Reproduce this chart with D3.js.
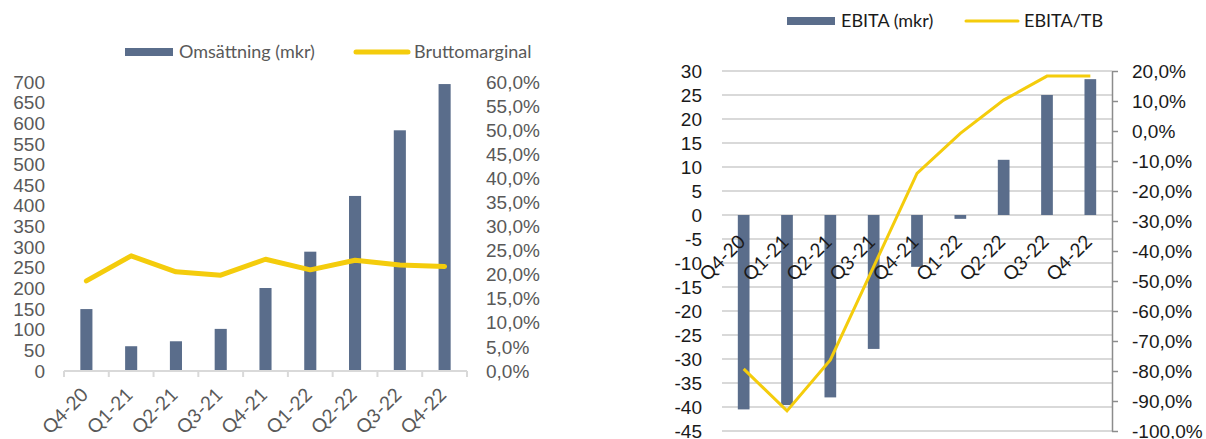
<!DOCTYPE html>
<html>
<head>
<meta charset="utf-8">
<script src="https://cdn.jsdelivr.net/npm/d3@7"></script>
<style>
  body { margin: 0; background: #fff; }
  svg { display: block; font-family: Lato, "Open Sans", sans-serif; }
  .axis text { font-size: 19px; }
</style>
</head>
<body>
<div id="chart"></div>
<script>
const quarters = ['Q4-20', 'Q1-21', 'Q2-21', 'Q3-21', 'Q4-21', 'Q1-22', 'Q2-22', 'Q3-22', 'Q4-22'];

// left chart
const omsattning = [150, 60, 72, 102, 201, 289, 424, 583, 695];
const bruttomarginal = [0.187, 0.239, 0.206, 0.199, 0.232, 0.210, 0.230, 0.220, 0.217];
const omsTicks = d3.range(0, 701, 50);
const bmTicks = d3.range(0, 0.601, 0.05);

// right chart
const ebita = [-40.5, -39.6, -38, -27.9, -10.8, -0.8, 11.5, 25, 28.3];
const ebitaTb = [-0.793, -0.933, -0.763, -0.452, -0.141, -0.008, 0.103, 0.183, 0.183];
const ebitaTicks = d3.range(-45, 31, 5);
const ebitaTbTicks = d3.range(-1.0, 0.201, 0.1);

const barColor = '#5a6d8b';
const lineColor = '#f4cc0c';

const sv = d3.formatLocale({ decimal: ',', thousands: ' ', grouping: [3], currency: ['', ' kr'], minus: '-', percent: '%' });
const pct = sv.format('.1%');
const num = sv.format('d');

const svg = d3.select('#chart')
  .append('svg')
  .attr('width', 1206)
  .attr('height', 439);

function bandScale(x0, x1) {
  return d3.scaleBand().domain(quarters).range([x0, x1]).paddingInner(0.73).paddingOuter(0.365);
}

function boundaryTicks(g, x, y0, len, color) {
  const edges = quarters.map(q => x(q) - x.step() * x.paddingInner() / 2);
  edges.push(x.range()[1]);
  g.selectAll('line.bt')
    .data(edges)
    .enter()
    .append('line')
    .attr('class', 'bt')
    .attr('x1', d => d).attr('x2', d => d)
    .attr('y1', y0).attr('y2', y0 + len)
    .attr('stroke', color)
    .attr('stroke-width', 2);
}

function xLabels(g, x, y0, color) {
  g.selectAll('text.xl')
    .data(quarters)
    .enter()
    .append('text')
    .attr('class', 'xl')
    .attr('text-anchor', 'end')
    .attr('font-size', 19)
    .attr('fill', color)
    .attr('transform', d => `translate(${x(d) + x.bandwidth() / 2 + 3},${y0 + 25}) rotate(-45)`)
    .text(d => d);
}

function legend(g, items, color) {
  items.forEach(it => {
    if (it.type === 'bar') {
      g.append('rect')
        .attr('x', it.x).attr('y', it.y - 4)
        .attr('width', it.w).attr('height', 8)
        .attr('fill', barColor);
    } else {
      g.append('line')
        .attr('x1', it.x).attr('x2', it.x + it.w)
        .attr('y1', it.y).attr('y2', it.y)
        .attr('stroke', lineColor)
        .attr('stroke-width', it.sw)
        .attr('stroke-linecap', 'round');
    }
    g.append('text')
      .attr('x', it.x + it.w + 6)
      .attr('y', it.y)
      .attr('dy', '0.35em')
      .attr('font-size', 18)
      .attr('fill', color)
      .text(it.label);
  });
}

// ---------- left chart ----------
{
  const g = svg.append('g');
  const x = bandScale(64, 467);
  const y = d3.scaleLinear().domain([0, 700]).range([371, 82]);
  const yR = d3.scaleLinear().domain([0, 0.6]).range([371, 82]);
  const grey = '#595959';

  g.selectAll('.bar')
    .data(omsattning)
    .enter()
    .append('rect')
    .attr('class', 'bar')
    .attr('x', (d, i) => x(quarters[i]))
    .attr('y', d => y(d))
    .attr('width', x.bandwidth())
    .attr('height', d => y(0) - y(d))
    .attr('fill', barColor);

  g.append('line')
    .attr('x1', 64).attr('x2', 467)
    .attr('y1', y(0)).attr('y2', y(0))
    .attr('stroke', '#d9d9d9').attr('stroke-width', 2);
  boundaryTicks(g, x, y(0), 6, '#d9d9d9');

  const line = d3.line()
    .x((d, i) => x(quarters[i]) + x.bandwidth() / 2)
    .y(d => yR(d));
  g.append('path')
    .datum(bruttomarginal)
    .attr('d', line)
    .attr('fill', 'none')
    .attr('stroke', lineColor)
    .attr('stroke-width', 5)
    .attr('stroke-linecap', 'round')
    .attr('stroke-linejoin', 'round');

  const ax = g.append('g').attr('class', 'axis').attr('transform', 'translate(48,0)')
    .call(d3.axisLeft(y).tickValues(omsTicks).tickFormat(num).tickSize(0).tickPadding(3));
  ax.select('.domain').remove();
  ax.selectAll('text').attr('fill', grey);

  const axR = g.append('g').attr('class', 'axis').attr('transform', 'translate(480,0)')
    .call(d3.axisRight(yR).tickValues(bmTicks).tickFormat(pct).tickSize(0).tickPadding(6));
  axR.select('.domain').remove();
  axR.selectAll('text').attr('fill', grey);

  xLabels(g, x, y(0), grey);

  legend(g, [
    { type: 'bar', x: 125, y: 52, w: 48, label: 'Omsättning (mkr)' },
    { type: 'line', x: 356, y: 52, w: 52, sw: 5, label: 'Bruttomarginal' }
  ], grey);
}

// ---------- right chart ----------
{
  const g = svg.append('g');
  const x = bandScale(722, 1112);
  const y = d3.scaleLinear().domain([-45, 30]).range([431, 71]);
  const yR = d3.scaleLinear().domain([-1.0, 0.2]).range([431, 71]);
  const ink = '#1a1a1a';

  g.selectAll('.grid')
    .data(ebitaTicks)
    .enter()
    .append('line')
    .attr('x1', 722).attr('x2', 1112)
    .attr('y1', d => y(d)).attr('y2', d => y(d))
    .attr('stroke', '#d9d9d9').attr('stroke-width', 2);

  g.selectAll('.bar')
    .data(ebita)
    .enter()
    .append('rect')
    .attr('class', 'bar')
    .attr('x', (d, i) => x(quarters[i]))
    .attr('y', d => Math.min(y(0), y(d)))
    .attr('width', x.bandwidth())
    .attr('height', d => Math.abs(y(0) - y(d)))
    .attr('fill', barColor);

  const line = d3.line()
    .x((d, i) => x(quarters[i]) + x.bandwidth() / 2)
    .y(d => yR(d));
  g.append('path')
    .datum(ebitaTb)
    .attr('d', line)
    .attr('fill', 'none')
    .attr('stroke', lineColor)
    .attr('stroke-width', 3);

  const ax = g.append('g').attr('class', 'axis').attr('transform', 'translate(705,0)')
    .call(d3.axisLeft(y).tickValues(ebitaTicks).tickFormat(num).tickSize(0).tickPadding(3));
  ax.select('.domain').remove();
  ax.selectAll('text').attr('fill', ink);

  const axR = g.append('g').attr('class', 'axis').attr('transform', 'translate(1112,0)')
    .call(d3.axisRight(yR).tickValues(ebitaTbTicks).tickFormat(pct).tickSizeInner(6).tickSizeOuter(0).tickPadding(14));
  axR.select('.domain').attr('stroke', '#8c8c8c').attr('stroke-width', 1.5);
  axR.selectAll('.tick line').attr('stroke', '#8c8c8c').attr('stroke-width', 1.5);
  axR.selectAll('text').attr('fill', ink);

  xLabels(g, x, y(0) + 3, ink);

  legend(g, [
    { type: 'bar', x: 787, y: 21, w: 48, label: 'EBITA (mkr)' },
    { type: 'line', x: 966, y: 21, w: 52, sw: 3, label: 'EBITA/TB' }
  ], ink);
}
</script>
</body>
</html>
